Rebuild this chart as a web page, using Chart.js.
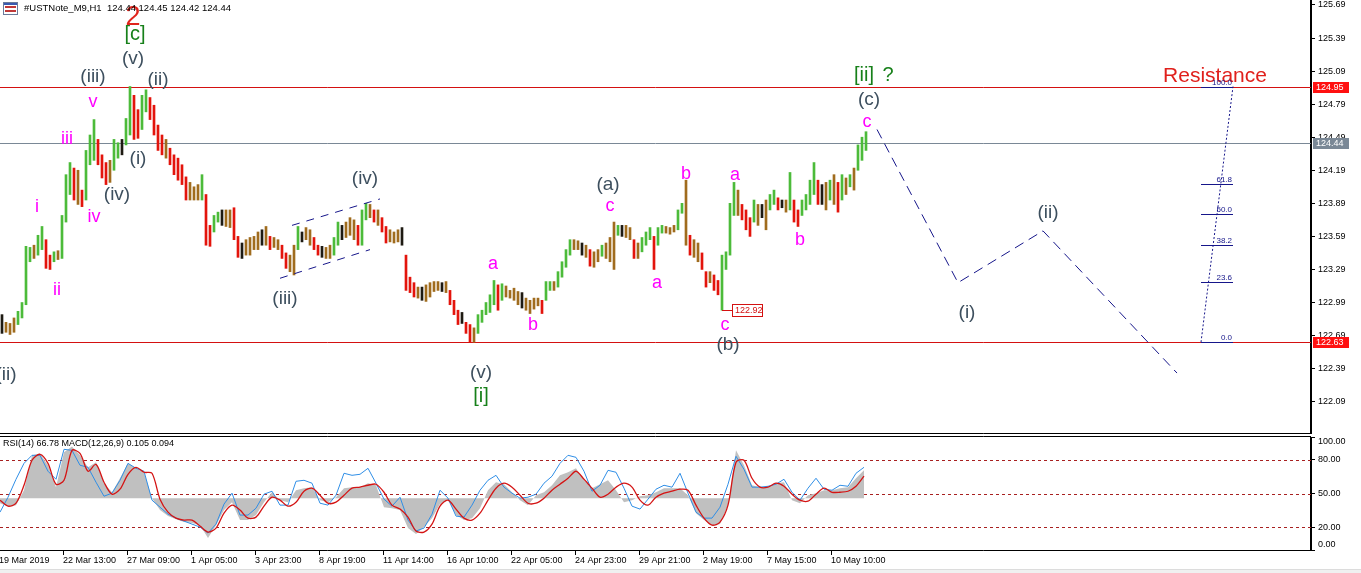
<!DOCTYPE html>
<html>
<head>
<meta charset="utf-8">
<script src="https://cdn.jsdelivr.net/npm/chart.js@4.4.1/dist/chart.umd.min.js"></script>
<style>
  html, body { margin: 0; padding: 0; background: #fff; }
  #wrap { position: relative; width: 1361px; height: 573px; overflow: hidden; background: #fff; }
  #main { position: absolute; left: 0; top: 0; }
  #sub { position: absolute; left: 0; top: 437px; }
  #foot { position: absolute; left: 0; top: 569px; width: 1361px; height: 4px; background: #f0f0f0; border-top: 1px solid #dcdcdc; }
</style>
</head>
<body>
<div id="wrap">
  <canvas id="main" width="1361" height="437"></canvas>
  <canvas id="sub" width="1361" height="136"></canvas>
  <div id="foot"></div>
</div>
<script>
// ---- price columns (each column = 4 hourly bars), high / low ----
const barHigh = [122.88,122.81,122.80,122.85,122.91,122.99,123.50,123.49,123.51,123.60,
  123.68,123.56,123.42,123.45,123.46,123.78,124.15,124.26,124.21,124.19,
  124.01,124.37,124.51,124.65,124.47,124.33,124.26,124.28,124.47,124.44,
  124.47,124.66,124.95,124.87,124.74,124.87,124.92,124.85,124.78,124.60,
  124.51,124.47,124.39,124.33,124.30,124.24,124.13,124.08,124.04,124.06,
  124.15,123.97,123.69,123.78,123.81,123.83,123.83,123.83,123.85,123.59,
  123.53,123.56,123.58,123.59,123.63,123.65,123.68,123.59,123.58,123.56,
  123.51,123.44,123.42,123.51,123.68,123.63,123.67,123.65,123.58,123.51,
  123.50,123.49,123.51,123.58,123.72,123.69,123.72,123.76,123.74,123.69,
  123.83,123.89,123.88,123.83,123.83,123.76,123.68,123.65,123.63,123.65,
  123.67,123.42,123.22,123.17,123.13,123.13,123.15,123.17,123.18,123.18,
  123.17,123.18,123.10,123.01,122.92,122.90,122.81,122.79,122.76,122.88,
  122.92,122.99,123.06,123.19,123.15,123.16,123.14,123.10,123.12,123.09,
  123.08,123.03,123.01,123.03,123.03,123.01,123.18,123.18,123.18,123.27,
  123.36,123.47,123.56,123.56,123.55,123.53,123.51,123.47,123.45,123.47,
  123.51,123.53,123.58,123.72,123.69,123.69,123.69,123.67,123.56,123.53,
  123.58,123.63,123.67,123.59,123.67,123.69,123.68,123.67,123.69,123.83,
  123.89,124.10,123.60,123.56,123.53,123.44,123.27,123.27,123.24,123.19,
  123.42,123.45,123.89,124.08,124.01,123.88,123.83,123.76,123.92,123.88,
  123.88,123.92,123.97,124.01,123.94,123.92,123.92,124.17,123.92,123.83,
  123.92,123.97,124.10,124.26,124.10,124.06,124.08,124.10,124.15,124.08,
  124.15,124.12,124.15,124.21,124.42,124.49,124.54];
const barLow = [122.71,122.72,122.70,122.72,122.79,122.85,122.97,123.36,123.39,123.42,
  123.47,123.30,123.29,123.36,123.38,123.39,123.72,123.97,123.92,123.88,
  123.86,123.92,124.24,124.28,124.24,124.12,124.06,124.08,124.19,124.30,
  124.33,124.42,124.51,124.47,124.48,124.56,124.72,124.65,124.51,124.37,
  124.33,124.30,124.24,124.15,124.10,124.06,123.92,123.92,123.92,123.92,
  123.92,123.51,123.50,123.63,123.72,123.69,123.68,123.67,123.56,123.40,
  123.39,123.42,123.42,123.47,123.47,123.51,123.51,123.47,123.49,123.47,
  123.39,123.30,123.27,123.24,123.47,123.54,123.56,123.51,123.47,123.42,
  123.40,123.39,123.39,123.42,123.51,123.56,123.58,123.60,123.56,123.51,
  123.51,123.74,123.76,123.72,123.69,123.63,123.53,123.54,123.53,123.54,
  123.51,123.10,123.08,123.04,123.03,123.01,123.00,123.04,123.09,123.10,
  123.09,123.08,122.97,122.88,122.79,122.80,122.71,122.63,122.63,122.71,
  122.81,122.88,122.90,122.97,122.92,123.01,123.04,123.03,123.01,122.97,
  122.94,122.92,122.89,122.93,122.96,122.89,123.01,123.10,123.10,123.13,
  123.22,123.31,123.42,123.47,123.47,123.42,123.40,123.32,123.31,123.36,
  123.41,123.39,123.36,123.29,123.60,123.59,123.58,123.56,123.39,123.39,
  123.45,123.51,123.56,123.29,123.51,123.62,123.62,123.61,123.63,123.65,
  123.80,123.51,123.42,123.40,123.36,123.29,123.13,123.17,123.10,123.06,
  122.92,123.29,123.42,123.78,123.78,123.74,123.65,123.59,123.72,123.69,
  123.76,123.65,123.83,123.88,123.83,123.85,123.81,123.83,123.72,123.68,
  123.78,123.83,123.88,123.97,123.88,123.88,123.83,123.92,123.88,123.81,
  123.92,123.97,124.04,124.01,124.19,124.28,124.37];

// ---- indicator window, one value every 8 hourly bars ----
const rsiLine = [33.5,46.7,62.6,76.7,83.8,83.8,69.7,62.6,89.1,88.2,
  75.0,73.2,60.0,47.6,50.3,61.7,76.7,72.3,69.7,44.1,
  37.9,31.7,28.2,25.6,22.9,20.3,15.0,22.9,40.6,50.3,
  30.9,30.9,37.0,49.4,52.0,39.7,39.7,60.8,61.7,59.1,
  41.4,39.7,48.5,67.9,66.1,67.0,72.3,59.1,45.0,38.8,
  46.7,26.5,16.8,19.4,31.7,52.9,45.9,30.0,29.1,39.7,
  52.9,61.7,66.1,55.6,50.3,45.9,46.7,49.4,59.1,65.3,
  76.7,83.8,82.0,69.7,52.0,57.3,70.5,68.8,54.7,38.8,
  36.2,45.0,53.8,57.3,55.6,67.9,50.3,33.5,28.2,28.2,
  37.9,58.2,82.9,71.4,55.6,55.6,56.4,58.2,62.6,51.1,
  44.1,54.7,63.5,53.8,52.9,57.3,56.4,67.9,73.2];
const signalLine = [44.1,38.8,41.4,57.3,79.4,84.7,76.7,58.2,61.7,88.2,
  85.5,69.7,75.8,60.0,49.4,53.8,67.0,73.2,68.8,67.9,
  45.0,33.5,28.2,26.5,26.5,21.2,15.9,19.4,32.6,39.7,
  35.3,28.2,29.1,38.8,46.7,44.1,38.8,42.3,52.0,54.7,
  48.5,41.4,42.3,48.5,54.7,55.6,57.3,58.2,51.1,39.7,
  36.2,29.1,16.8,15.9,22.9,38.8,44.1,36.2,28.2,26.5,
  32.6,44.1,54.7,59.1,55.6,48.5,41.4,41.4,45.9,52.9,
  58.2,63.5,69.7,62.6,54.7,46.7,49.4,55.6,59.1,55.6,
  44.1,39.7,46.7,50.3,52.0,53.8,52.9,39.7,28.2,22.0,
  24.7,39.7,77.6,79.4,63.5,55.6,55.6,59.1,56.4,49.4,
  44.1,43.2,49.4,54.7,51.1,51.1,52.0,56.4,65.3];
const macdHist = [41.4,38.8,39.7,52.9,83.8,85.5,75.0,55.6,86.5,91.7,
  83.8,73.2,77.6,59.1,51.1,63.5,76.7,72.3,68.8,45.9,
  35.3,30.0,27.3,24.7,23.8,22.0,10.6,22.0,35.3,42.3,
  26.5,26.5,30.9,42.3,51.1,44.1,42.3,52.9,54.7,55.6,
  44.1,42.3,46.7,54.7,55.6,55.6,59.1,57.3,37.9,37.0,
  35.3,19.4,14.1,20.3,28.2,40.6,44.1,30.9,26.5,28.2,
  37.0,52.9,60.0,58.2,51.1,44.1,39.7,48.5,51.1,57.3,
  66.1,68.8,72.3,61.7,54.7,58.2,61.7,52.9,42.3,44.1,
  47.6,48.5,51.1,54.7,54.7,54.7,48.5,32.6,26.5,22.0,
  22.9,39.7,88.2,75.0,57.3,55.6,55.6,59.1,60.0,44.1,
  41.4,48.5,50.3,52.9,52.9,54.7,55.6,63.5,70.5];
const histBase = 45.9;

// ---- axes ----
const priceTicks = [122.09,122.39,122.69,122.99,123.29,123.59,123.89,124.19,124.49,124.79,125.09,125.39,125.69];
const rsiTicks = [0, 20, 50, 80, 100];
const rsiLevels = [20, 50, 80];
const dateLabels = ['19 Mar 2019','22 Mar 13:00','27 Mar 09:00','1 Apr 05:00','3 Apr 23:00','8 Apr 19:00',
  '11 Apr 14:00','16 Apr 10:00','22 Apr 05:00','24 Apr 23:00','29 Apr 21:00','2 May 19:00','7 May 15:00','10 May 10:00'];
const dateTickHour = dateLabels.map((d, i) => i * 64 - 1);

// ---- levels and drawings (hour index, price) ----
const resistance = 124.95;
const lastPrice = 124.44;
const support = 122.63;
const markHour = [722, 732];
const markPrice = 122.92;
const projHour = [877, 958, 1043, 1177];
const projPrice = [124.56, 123.17, 123.64, 122.35];
const chanUpHour = [292, 380];
const chanUpPrice = [123.69, 123.93];
const chanLowHour = [280, 370];
const chanLowPrice = [123.21, 123.47];
const fibHour = [1201, 1233];
const fibLevels = [0, 23.6, 38.2, 50, 61.8, 100];

const waveText = ['2','[c]','(v)','(iii)','(ii)','v','iii','(i)','(iv)','i','iv','ii','(ii)','(iii)','(iv)',
  'a','b','(v)','[i]','(a)','c','a','b','c','(b)','a','b','c','(c)','[ii]','?','(i)','(ii)'];
const waveHour = [133,135,133,93,158,93,67,138,117,37,94,57,6,285,365,
  493,533,481,481,608,610,657,686,725,728,735,800,867,869,864,888,967,1048];
const wavePrice = [125.58,125.42,125.20,125.04,125.01,124.81,124.47,124.29,123.97,123.86,123.77,123.10,122.33,123.02,124.11,
  123.34,122.79,122.35,122.14,124.06,123.87,123.17,124.16,122.79,122.61,124.15,123.56,124.63,124.83,125.05,125.05,122.90,123.80];
const waveDegree = ['primary','minor','minute','minute','minute','minuette','minuette','minute','minute','minuette','minuette','minuette','minute','minute','minute',
  'minuette','minuette','minute','minor','minute','minuette','minuette','minuette','minuette','minute','minuette','minuette','minuette','minute','minor','minor','minute','minute'];

const symbolLine = '#USTNote_M9,H1  124.44 124.45 124.42 124.44';
const indicatorLine = 'RSI(14) 66.78 MACD(12,26,9) 0.105 0.094';

const BAR_STEP = 4;
const IND_STEP = 8;
const NAVY = '#16168a';
const FONT = '"Liberation Sans", Arial, sans-serif';
const degreeStyle = {
  primary: { size: 27, color: '#e0241c' },
  minor: { size: 20, color: '#17801a' },
  minute: { size: 19, color: '#3d4f5e' },
  minuette: { size: 18, color: '#ff00ff' }
};

const barColors = barHigh.map((h, i) => {
  const mid = (h + barLow[i]) / 2;
  const prev = i ? (barHigh[i - 1] + barLow[i - 1]) / 2 : mid;
  const d = mid - prev;
  if (d > 0.04) return '#4cbb3a';
  if (d < -0.04) return '#e3140c';
  return i % 5 === 0 ? '#1e1a12' : '#a06c1e';
});

function line(hours, prices, dash, order) {
  return {
    type: 'line',
    data: hours.map((h, i) => ({ x: h, y: prices[i] })),
    borderColor: NAVY, borderWidth: 1, borderDash: dash,
    pointRadius: 0, fill: false, tension: 0, order: order
  };
}

function flatPad(s) { s.paddingTop = 0; s.paddingBottom = 0; s.paddingLeft = 0; s.paddingRight = 0; }

const mainMarks = {
  id: 'mainMarks',
  beforeDatasetsDraw(chart) {
    const { ctx, chartArea: a, scales: { y } } = chart;
    ctx.save();
    ctx.lineWidth = 1;
    [[resistance, '#d41111'], [lastPrice, '#7a8896'], [support, '#d41111']].forEach(([p, c]) => {
      const py = Math.round(y.getPixelForValue(p)) + 0.5;
      ctx.strokeStyle = c;
      ctx.beginPath(); ctx.moveTo(a.left, py); ctx.lineTo(a.right, py); ctx.stroke();
    });
    ctx.restore();
  },
  afterDatasetsDraw(chart) {
    const { ctx, chartArea: a, scales: { x, y } } = chart;
    ctx.save();
    ctx.textAlign = 'center';
    ctx.textBaseline = 'middle';
    waveText.forEach((t, i) => {
      const st = degreeStyle[waveDegree[i]];
      ctx.font = st.size + 'px ' + FONT;
      ctx.fillStyle = st.color;
      ctx.fillText(t, x.getPixelForValue(waveHour[i]), y.getPixelForValue(wavePrice[i]));
    });
    ctx.font = '21px ' + FONT;
    ctx.fillStyle = '#e0201c';
    ctx.fillText('Resistance', x.getPixelForValue(1215), y.getPixelForValue(125.04));

    // fibonacci retracement
    const fx0 = x.getPixelForValue(fibHour[0]), fx1 = x.getPixelForValue(fibHour[1]);
    ctx.font = '8px ' + FONT;
    ctx.textAlign = 'right';
    ctx.textBaseline = 'bottom';
    ctx.strokeStyle = NAVY; ctx.fillStyle = NAVY; ctx.lineWidth = 1;
    fibLevels.forEach(l => {
      const py = Math.round(y.getPixelForValue(support + (resistance - support) * l / 100)) + 0.5;
      ctx.beginPath(); ctx.moveTo(fx0, py); ctx.lineTo(fx1, py); ctx.stroke();
      ctx.fillText(l.toFixed(1), fx1 - 1, py - 1);
    });

    // low marker
    const my = Math.round(y.getPixelForValue(markPrice)) + 0.5;
    const mx0 = x.getPixelForValue(markHour[0]), mx1 = x.getPixelForValue(markHour[1]);
    ctx.strokeStyle = '#d41111';
    ctx.beginPath(); ctx.moveTo(mx0, my); ctx.lineTo(mx1, my); ctx.stroke();
    ctx.fillStyle = '#fff';
    ctx.fillRect(mx1 + 0.5, my - 6, 30, 12);
    ctx.strokeRect(mx1 + 0.5, my - 6, 30, 12);
    ctx.fillStyle = '#d41111';
    ctx.font = '9px ' + FONT;
    ctx.textAlign = 'left'; ctx.textBaseline = 'middle';
    ctx.fillText(markPrice.toFixed(2), mx1 + 3, my + 0.5);

    // price boxes on the axis
    [[resistance, '#ff1010'], [lastPrice, '#7a8896'], [support, '#ff1010']].forEach(([p, c]) => {
      const py = Math.round(y.getPixelForValue(p));
      ctx.fillStyle = c;
      ctx.fillRect(a.right + 2, py - 5, 36, 11);
      ctx.fillStyle = '#fff';
      ctx.fillText(p.toFixed(2), a.right + 5, py + 0.5);
    });

    // header
    ctx.fillStyle = '#fff'; ctx.fillRect(3, 2, 15, 13);
    ctx.strokeStyle = '#6a7a9a'; ctx.strokeRect(3.5, 2.5, 14, 12);
    ctx.fillStyle = '#c03838'; ctx.fillRect(5, 6, 11, 2); ctx.fillRect(5, 10, 11, 2);
    ctx.fillStyle = '#3a5ab0'; ctx.fillRect(4, 3, 13, 2);
    ctx.fillStyle = '#000';
    ctx.font = '9.5px ' + FONT;
    ctx.fillText(symbolLine, 24, 8);
    ctx.restore();
  },
  afterDraw(chart) {
    // double separator between the price window and the indicator window
    const { ctx, chartArea: a } = chart;
    ctx.save();
    ctx.fillStyle = '#fff';
    ctx.fillRect(0, a.bottom, a.right - 1, chart.height - a.bottom);
    ctx.strokeStyle = '#000';
    ctx.lineWidth = 1;
    ctx.beginPath(); ctx.moveTo(0, a.bottom + 0.5); ctx.lineTo(a.right, a.bottom + 0.5); ctx.stroke();
    ctx.beginPath(); ctx.moveTo(0, chart.height - 0.5); ctx.lineTo(a.right, chart.height - 0.5); ctx.stroke();
    ctx.restore();
  }
};

new Chart(document.getElementById('main'), {
  type: 'bar',
  data: {
    datasets: [
      line(projHour, projPrice, [10, 6], 0),
      line(chanUpHour, chanUpPrice, [8, 7], 0),
      line(chanLowHour, chanLowPrice, [8, 7], 0),
      line(fibHour, [support, resistance], [2, 2], 0),
      {
        type: 'bar',
        data: barHigh.map((h, i) => ({ x: i * BAR_STEP + BAR_STEP / 2, y: [barLow[i], h] })),
        backgroundColor: barColors,
        barThickness: 2,
        borderWidth: 0,
        order: 5
      }
    ]
  },
  options: {
    responsive: false,
    animation: false,
    devicePixelRatio: 1,
    layout: { padding: { left: 0, right: 0, top: 0, bottom: 4 } },
    plugins: { legend: { display: false }, tooltip: { enabled: false } },
    scales: {
      x: { type: 'linear', min: 0, max: 1311, offset: false, display: false, grid: { offset: false } },
      y: {
        position: 'right',
        min: 121.806, max: 125.735,
        afterBuildTicks: s => { s.ticks = priceTicks.map(v => ({ value: v })); },
        afterFit: s => { s.width = 50; flatPad(s); },
        ticks: { color: '#000', padding: 3, font: { family: FONT, size: 9 }, callback: v => Number(v).toFixed(2) },
        grid: { drawOnChartArea: false, tickLength: 4, color: '#000' },
        border: { color: '#000', width: 2 }
      }
    }
  },
  plugins: [mainMarks]
});

const subMarks = {
  id: 'subMarks',
  beforeDatasetsDraw(chart) {
    const { ctx, chartArea: a, scales: { y } } = chart;
    ctx.save();
    ctx.strokeStyle = '#a82020';
    ctx.lineWidth = 1;
    ctx.setLineDash([3, 3]);
    rsiLevels.forEach(v => {
      const py = Math.round(y.getPixelForValue(v)) + 0.5;
      ctx.beginPath(); ctx.moveTo(a.left, py); ctx.lineTo(a.right, py); ctx.stroke();
    });
    ctx.restore();
  },
  afterDraw(chart) {
    const { ctx, chartArea: a, scales: { x, y } } = chart;
    ctx.save();
    ctx.strokeStyle = '#000';
    ctx.lineWidth = 1;
    ctx.beginPath(); ctx.moveTo(0, a.bottom + 0.5); ctx.lineTo(a.right, a.bottom + 0.5); ctx.stroke();
    // date tick marks
    dateTickHour.forEach(h => {
      const px = Math.round(x.getPixelForValue(h)) + 0.5;
      ctx.beginPath(); ctx.moveTo(px, a.bottom + 1); ctx.lineTo(px, a.bottom + 5); ctx.stroke();
    });
    ctx.fillStyle = '#000';
    ctx.font = '9px ' + FONT;
    ctx.textAlign = 'left';
    ctx.textBaseline = 'middle';
    rsiTicks.forEach(v => {
      const py = Math.min(Math.max(y.getPixelForValue(v), a.top + 5), a.bottom - 5);
      ctx.fillText(v.toFixed(2), a.right + 7, py);
    });
    ctx.fillText(indicatorLine, 3, 7);
    ctx.restore();
  }
};

function indSeries(vals) { return vals.map((v, i) => ({ x: i * IND_STEP, y: v })); }

new Chart(document.getElementById('sub'), {
  type: 'line',
  data: {
    datasets: [
      { data: indSeries(signalLine), borderColor: '#d41414', borderWidth: 1.3, pointRadius: 0, tension: 0.3, fill: false, order: 0 },
      { data: indSeries(rsiLine), borderColor: '#2f8ee6', borderWidth: 1, pointRadius: 0, tension: 0, fill: false, order: 1 },
      { data: indSeries(macdHist), borderWidth: 0, borderColor: 'rgba(0,0,0,0)', backgroundColor: '#c0c0c0', pointRadius: 0, tension: 0, fill: { value: histBase }, order: 2 }
    ]
  },
  options: {
    responsive: false,
    animation: false,
    devicePixelRatio: 1,
    layout: { padding: { left: 0, right: 0, top: 0, bottom: 0 } },
    plugins: { legend: { display: false }, tooltip: { enabled: false } },
    scales: {
      x: {
        type: 'linear', min: 0, max: 1311, offset: false,
        afterBuildTicks: s => { s.ticks = dateTickHour.map(v => ({ value: v })); },
        afterFit: s => { s.height = 23; flatPad(s); },
        ticks: { autoSkip: false, maxRotation: 0, align: 'start', padding: 5, color: '#000',
          font: { family: FONT, size: 9 }, callback: (v, i) => dateLabels[i] },
        grid: { display: false, drawTicks: false },
        border: { display: false }
      },
      y: {
        position: 'right', min: 0, max: 100,
        afterBuildTicks: s => { s.ticks = rsiTicks.map(v => ({ value: v })); },
        afterFit: s => { s.width = 50; flatPad(s); },
        ticks: { display: false },
        grid: { drawOnChartArea: false, tickLength: 4, color: '#000' },
        border: { color: '#000', width: 2 }
      }
    }
  },
  plugins: [subMarks]
});
</script>
</body>
</html>
